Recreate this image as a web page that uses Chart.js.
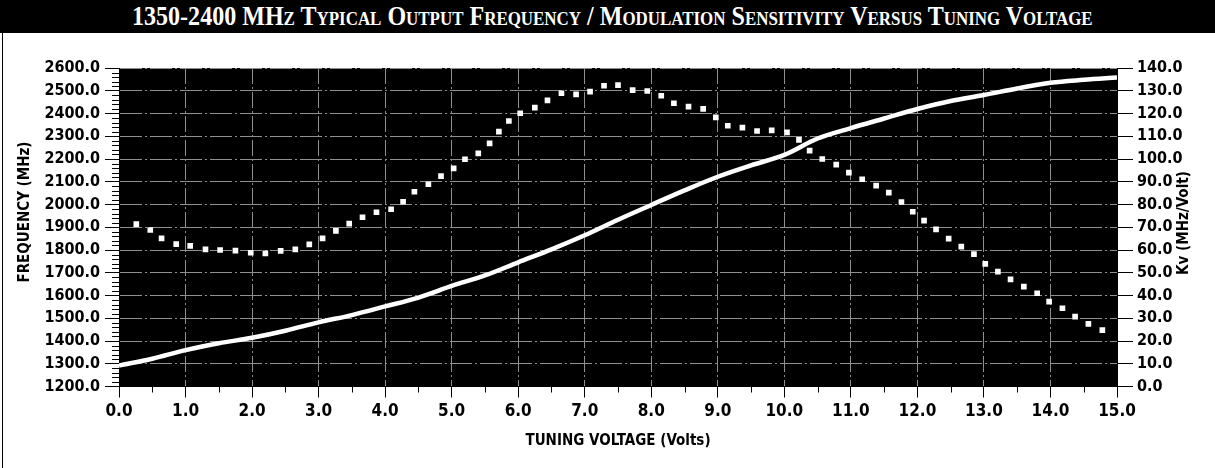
<!DOCTYPE html>
<html>
<head>
<meta charset="utf-8">
<script src="https://cdn.jsdelivr.net/npm/chart.js@4.4.0/dist/chart.umd.min.js"></script>
<style>
  html, body { margin: 0; padding: 0; background: #fff; }
  #page { position: relative; width: 1215px; height: 468px; overflow: hidden; }
  #title { position: absolute; left: 0; top: 0; width: 1215px; height: 33px; background: #000; }
  #titleText {
    position: absolute; left: 0; top: 1px; white-space: nowrap; color: #fff;
    font-family: 'Liberation Serif', 'DejaVu Serif', serif; font-weight: bold;
    font-variant: small-caps; font-size: 27px; line-height: 31px; transform-origin: 0 0;
  }
  #frame { position: absolute; left: 2px; top: 33px; width: 1px; height: 435px; background: #000; }
  #chartBox { position: absolute; left: 0; top: 33px; width: 1215px; height: 435px; }
</style>
</head>
<body>
<div id="page">
  <div id="title"><span id="titleText">1350-2400 MHz Typical Output Frequency / Modulation Sensitivity Versus Tuning Voltage</span></div>
  <div id="frame"></div>
  <div id="chartBox"><canvas id="tuningChart" width="1215" height="435"></canvas></div>
</div>
<script>
// ---- data ----
// output frequency (left axis, MHz) vs tuning voltage
var freqVolts = [0, 0.5, 1, 1.5, 2, 2.5, 3, 3.5, 4, 4.5, 5, 5.5, 6, 6.5, 7, 7.5, 8, 8.5, 9, 9.5,
                 10, 10.5, 11, 11.5, 12, 12.5, 13, 13.5, 14, 14.5, 15];
var freqValues = [1292, 1322, 1360, 1390, 1414, 1445, 1482, 1514, 1552, 1591, 1642, 1688, 1746, 1803, 1865, 1933,
                  1998, 2062, 2122, 2172, 2218, 2290, 2336, 2378, 2420, 2455, 2481, 2510, 2535, 2548, 2558];

// modulation sensitivity Kv (right axis, MHz/Volt), one entry per plotted dot
var kvVolts = [0.26, 0.47, 0.64, 0.86, 1.07, 1.30, 1.52, 1.75, 1.98, 2.20, 2.43, 2.65, 2.86, 3.06, 3.26, 3.46,
               3.66, 3.87, 4.09, 4.27, 4.44, 4.65, 4.84, 5.03, 5.20, 5.40, 5.57, 5.71, 5.86, 6.03, 6.25, 6.44,
               6.65, 6.87, 7.08, 7.29, 7.50, 7.72, 7.94, 8.15, 8.34, 8.56, 8.78, 8.97, 9.15, 9.37, 9.59, 9.81,
               10.04, 10.22, 10.38, 10.57, 10.78, 10.97, 11.17, 11.38, 11.57, 11.76, 11.93, 12.10, 12.28, 12.47,
               12.66, 12.85, 13.02, 13.21, 13.40, 13.60, 13.80, 13.98, 14.18, 14.37, 14.57, 14.78];
var kvValues = [71.4, 68.8, 65.1, 62.6, 61.8, 60.3, 60.0, 59.7, 58.8, 58.5, 59.6, 60.3, 62.5, 65.1, 68.4, 71.6,
                74.4, 76.6, 77.9, 81.2, 85.6, 88.9, 92.5, 95.9, 99.9, 102.5, 106.9, 112.0, 116.7, 120.1, 122.6, 125.8,
                128.9, 128.4, 129.6, 132.2, 132.5, 130.3, 129.9, 127.8, 124.5, 123.0, 122.0, 118.3, 114.6, 113.8, 112.3, 112.6,
                111.7, 108.4, 103.7, 100.0, 97.5, 94.0, 91.1, 88.3, 85.2, 81.1, 76.8, 72.9, 69.1, 65.0,
                61.5, 58.2, 53.9, 50.5, 47.1, 43.9, 41.0, 37.3, 34.4, 30.7, 27.5, 24.8];

// axis ranges and labels
var voltMin = 0, voltMax = 15, voltStep = 1;
var freqMin = 1200, freqMax = 2600, freqStep = 100;
var kvMin = 0, kvMax = 140, kvStep = 10;
var xTitle = "TUNING VOLTAGE (Volts)";
var yTitle = "FREQUENCY (MHz)";
var y1Title = "Kv (MHz/Volt)";

var AXIS_FONT = "'Liberation Sans Narrow', 'DejaVu Sans Condensed', 'Roboto Condensed', 'Liberation Sans', sans-serif";
var GRID_COLOR = "#8f8f8f";

function toPoints(xs, ys) {
  return xs.map(function (x, i) { return { x: x, y: ys[i] }; });
}

// squeeze the title into the width it has in the original
function fitTitle() {
  var el = document.getElementById("titleText");
  var w = el.offsetWidth;
  var s = 961 / w;
  el.style.transform = "translateX(132px) scaleX(" + s + ")";
}

// black plot area, minor ticks and rotated axis titles
var plotDecor = {
  id: "plotDecor",
  beforeDraw: function (chart) {
    var ctx = chart.ctx, a = chart.chartArea;
    ctx.save();
    ctx.fillStyle = "#000";
    ctx.fillRect(a.left, a.top, a.right - a.left, a.bottom - a.top);
    ctx.restore();
  },
  afterDraw: function (chart) {
    var ctx = chart.ctx, a = chart.chartArea;
    var sx = chart.scales.x, sy = chart.scales.y;
    ctx.save();
    ctx.strokeStyle = "#000";
    ctx.lineWidth = 1;
    ctx.beginPath();
    for (var f = freqMin; f <= freqMax; f += 20) {
      if (f % freqStep === 0) continue;
      var py = Math.round(sy.getPixelForValue(f)) + 0.5;
      ctx.moveTo(a.left - 7, py);
      ctx.lineTo(a.left, py);
    }
    for (var v = voltMin + 0.5; v < voltMax; v += 1) {
      var px = Math.round(sx.getPixelForValue(v)) + 0.5;
      ctx.moveTo(px, a.bottom);
      ctx.lineTo(px, a.bottom + 6);
    }
    ctx.stroke();

    ctx.fillStyle = "#000";
    ctx.font = "bold 15px " + AXIS_FONT;
    ctx.textAlign = "center";
    ctx.textBaseline = "middle";
    ctx.fillText(xTitle, (a.left + a.right) / 2, 408);

    ctx.translate(25, 179);
    ctx.rotate(-Math.PI / 2);
    ctx.fillText(yTitle, 0, 0);
    ctx.restore();

    ctx.save();
    ctx.fillStyle = "#000";
    ctx.font = "bold 15px " + AXIS_FONT;
    ctx.textAlign = "center";
    ctx.textBaseline = "middle";
    ctx.translate(1184, 190);
    ctx.rotate(-Math.PI / 2);
    ctx.fillText(y1Title, 0, 0);
    ctx.restore();
  }
};

function initTuningChart() {
  var ctx = document.getElementById("tuningChart");
  var tickFont = { family: AXIS_FONT, size: 17, weight: "bold" };
  var yTickFont = { family: AXIS_FONT, size: 16, weight: "bold" };

  new Chart(ctx, {
    type: "line",
    data: {
      datasets: [{
        label: "Frequency",
        data: toPoints(freqVolts, freqValues),
        yAxisID: "y",
        borderColor: "#ffffff",
        borderWidth: 4.5,
        pointRadius: 0,
        tension: 0.35,
        fill: false
      }, {
        label: "Kv",
        data: toPoints(kvVolts, kvValues),
        yAxisID: "y1",
        showLine: false,
        pointStyle: "rect",
        pointRadius: 4,
        pointBackgroundColor: "#ffffff",
        pointBorderWidth: 0
      }]
    },
    options: {
      responsive: false,
      animation: false,
      events: [],
      layout: { padding: { top: 35, left: 0, right: 0, bottom: 0 } },
      plugins: {
        legend: { display: false },
        tooltip: { enabled: false },
        title: { display: false }
      },
      scales: {
        x: {
          type: "linear",
          min: voltMin,
          max: voltMax,
          afterFit: function (s) { s.height = 81.5; },
          ticks: {
            stepSize: voltStep,
            autoSkip: false,
            color: "#000",
            font: tickFont,
            padding: 4,
            maxRotation: 0,
            callback: function (v) { return v.toFixed(1); }
          },
          grid: {
            color: GRID_COLOR,
            lineWidth: 1,
            tickLength: 11,
            tickColor: "#000",
            tickBorderDash: []
          },
          border: { color: "#000", dash: [16, 3, 2, 3] }
        },
        y: {
          position: "left",
          min: freqMin,
          max: freqMax,
          afterFit: function (s) { s.width = 119; },
          ticks: {
            stepSize: freqStep,
            autoSkip: false,
            color: "#000",
            font: yTickFont,
            padding: 5,
            callback: function (v) { return v.toFixed(1); }
          },
          grid: {
            color: GRID_COLOR,
            lineWidth: 1,
            tickLength: 14,
            tickColor: "#000",
            tickBorderDash: []
          },
          border: { color: "#000", dash: [22, 3, 2, 3] }
        },
        y1: {
          position: "right",
          min: kvMin,
          max: kvMax,
          afterFit: function (s) { s.width = 98; },
          ticks: {
            stepSize: kvStep,
            autoSkip: false,
            color: "#000",
            font: yTickFont,
            padding: 4,
            callback: function (v) { return v.toFixed(1); }
          },
          grid: {
            drawOnChartArea: false,
            color: "#000",
            tickLength: 16,
            tickColor: "#000"
          },
          border: { color: "#000" }
        }
      }
    },
    plugins: [plotDecor]
  });
}

document.addEventListener("DOMContentLoaded", function () {
  fitTitle();
  initTuningChart();
});
</script>
</body>
</html>
